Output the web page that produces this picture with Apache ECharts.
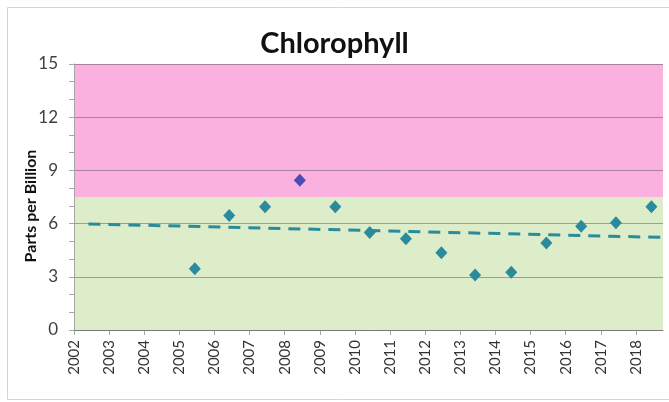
<!DOCTYPE html>
<html>
<head>
<meta charset="utf-8">
<script src="https://cdn.jsdelivr.net/npm/echarts@6/dist/echarts.min.js"></script>
<style>
  html, body { margin: 0; padding: 0; background: #fff; }
  #main { width: 669px; height: 402px; }
</style>
</head>
<body>
<div id="main"></div>
<script>
// sample dates (decimal years) and chlorophyll values, ppb
var sampleDates = [2005.44, 2006.42, 2007.44, 2009.44, 2010.42, 2011.45, 2012.46,
                   2013.42, 2014.45, 2015.45, 2016.44, 2017.43, 2018.44];
var chlorophyll = [3.45, 6.45, 6.95, 6.95, 5.5, 5.15, 4.35,
                   3.1, 3.25, 4.9, 5.85, 6.05, 6.95];
// the one sample above the 7.5 ppb threshold
var highDates = [2008.43];
var highValues = [8.45];
// linear trend end points
var trendDates = [2002.41, 2018.77];
var trendValues = [5.98, 5.22];
// bands and axis
var threshold = 7.5;
var yTicks = [0, 3, 6, 9, 12, 15];

var font = 'Lato, "Open Sans", sans-serif';

function pairs(xs, ys) {
  return xs.map(function (x, i) { return [x, ys[i]]; });
}

var chart = echarts.init(document.getElementById('main'));
chart.setOption({
  animation: false,
  title: {
    text: 'Chlorophyll',
    left: 'center',
    top: 24,
    textStyle: { fontFamily: font, fontSize: 29, fontWeight: 'bold', color: '#111' }
  },
  graphic: [{
    type: 'rect',
    shape: { x: 7.5, y: 7.5, width: 680, height: 392 },
    style: { fill: null, stroke: '#d4d4d4', lineWidth: 1 },
    silent: true
  }],
  grid: { left: 74, right: 6, top: 64, bottom: 72 },
  xAxis: {
    type: 'value',
    min: 2002,
    max: 2018.77,
    interval: 1,
    axisLine: { show: true, lineStyle: { color: '#a6a6a6' } },
    axisTick: { show: true, length: 5, lineStyle: { color: '#a6a6a6' } },
    axisLabel: {
      rotate: 90,
      margin: 10,
      showMaxLabel: false,
      fontFamily: font,
      fontSize: 15,
      color: '#333',
      formatter: function (v) { return v % 1 === 0 ? String(v) : ''; }
    },
    splitLine: { show: false }
  },
  yAxis: {
    type: 'value',
    z: 3,
    min: yTicks[0],
    max: yTicks[yTicks.length - 1],
    interval: 3,
    name: 'Parts per Billion',
    nameLocation: 'middle',
    nameGap: 35,
    nameMoveOverlap: false,
    nameTextStyle: { fontFamily: font, fontSize: 16, fontWeight: 'bold', color: '#111', padding: [0, 0, 0, -18] },
    axisLine: { show: true, lineStyle: { color: '#a6a6a6' } },
    axisTick: { show: true, length: 5, lineStyle: { color: '#a6a6a6' } },
    minorTick: { show: true, splitNumber: 3, length: 5, lineStyle: { color: '#a6a6a6' } },
    axisLabel: { margin: 16, fontFamily: font, fontSize: 17, color: '#404040' },
    splitLine: { show: true, lineStyle: { color: 'rgba(70,70,70,0.45)', width: 1 } }
  },
  series: [
    {
      // background bands, kept under the grid lines
      type: 'line',
      z: 0,
      data: [],
      silent: true,
      markArea: {
        silent: true,
        z: 0,
        data: [
          [{ yAxis: 0, itemStyle: { color: '#ddedc9', opacity: 1 } }, { yAxis: threshold }],
          [{ yAxis: threshold, itemStyle: { color: '#fbb1e0', opacity: 1 } }, { yAxis: yTicks[yTicks.length - 1] }]
        ]
      }
    },
    {
      name: 'Trend',
      type: 'line',
      data: pairs(trendDates, trendValues),
      symbol: 'none',
      lineStyle: { color: '#2a8b9a', width: 3, type: [12, 8] },
      z: 4
    },
    {
      name: 'Chlorophyll',
      type: 'scatter',
      data: pairs(sampleDates, chlorophyll),
      symbol: 'diamond',
      symbolSize: [12, 13],
      itemStyle: { color: '#2a8a9e', opacity: 1 },
      z: 5
    },
    {
      name: 'Above threshold',
      type: 'scatter',
      data: pairs(highDates, highValues),
      symbol: 'diamond',
      symbolSize: [12, 13],
      itemStyle: { color: '#4a4db5', opacity: 1 },
      z: 5
    }
  ]
});
</script>
</body>
</html>
